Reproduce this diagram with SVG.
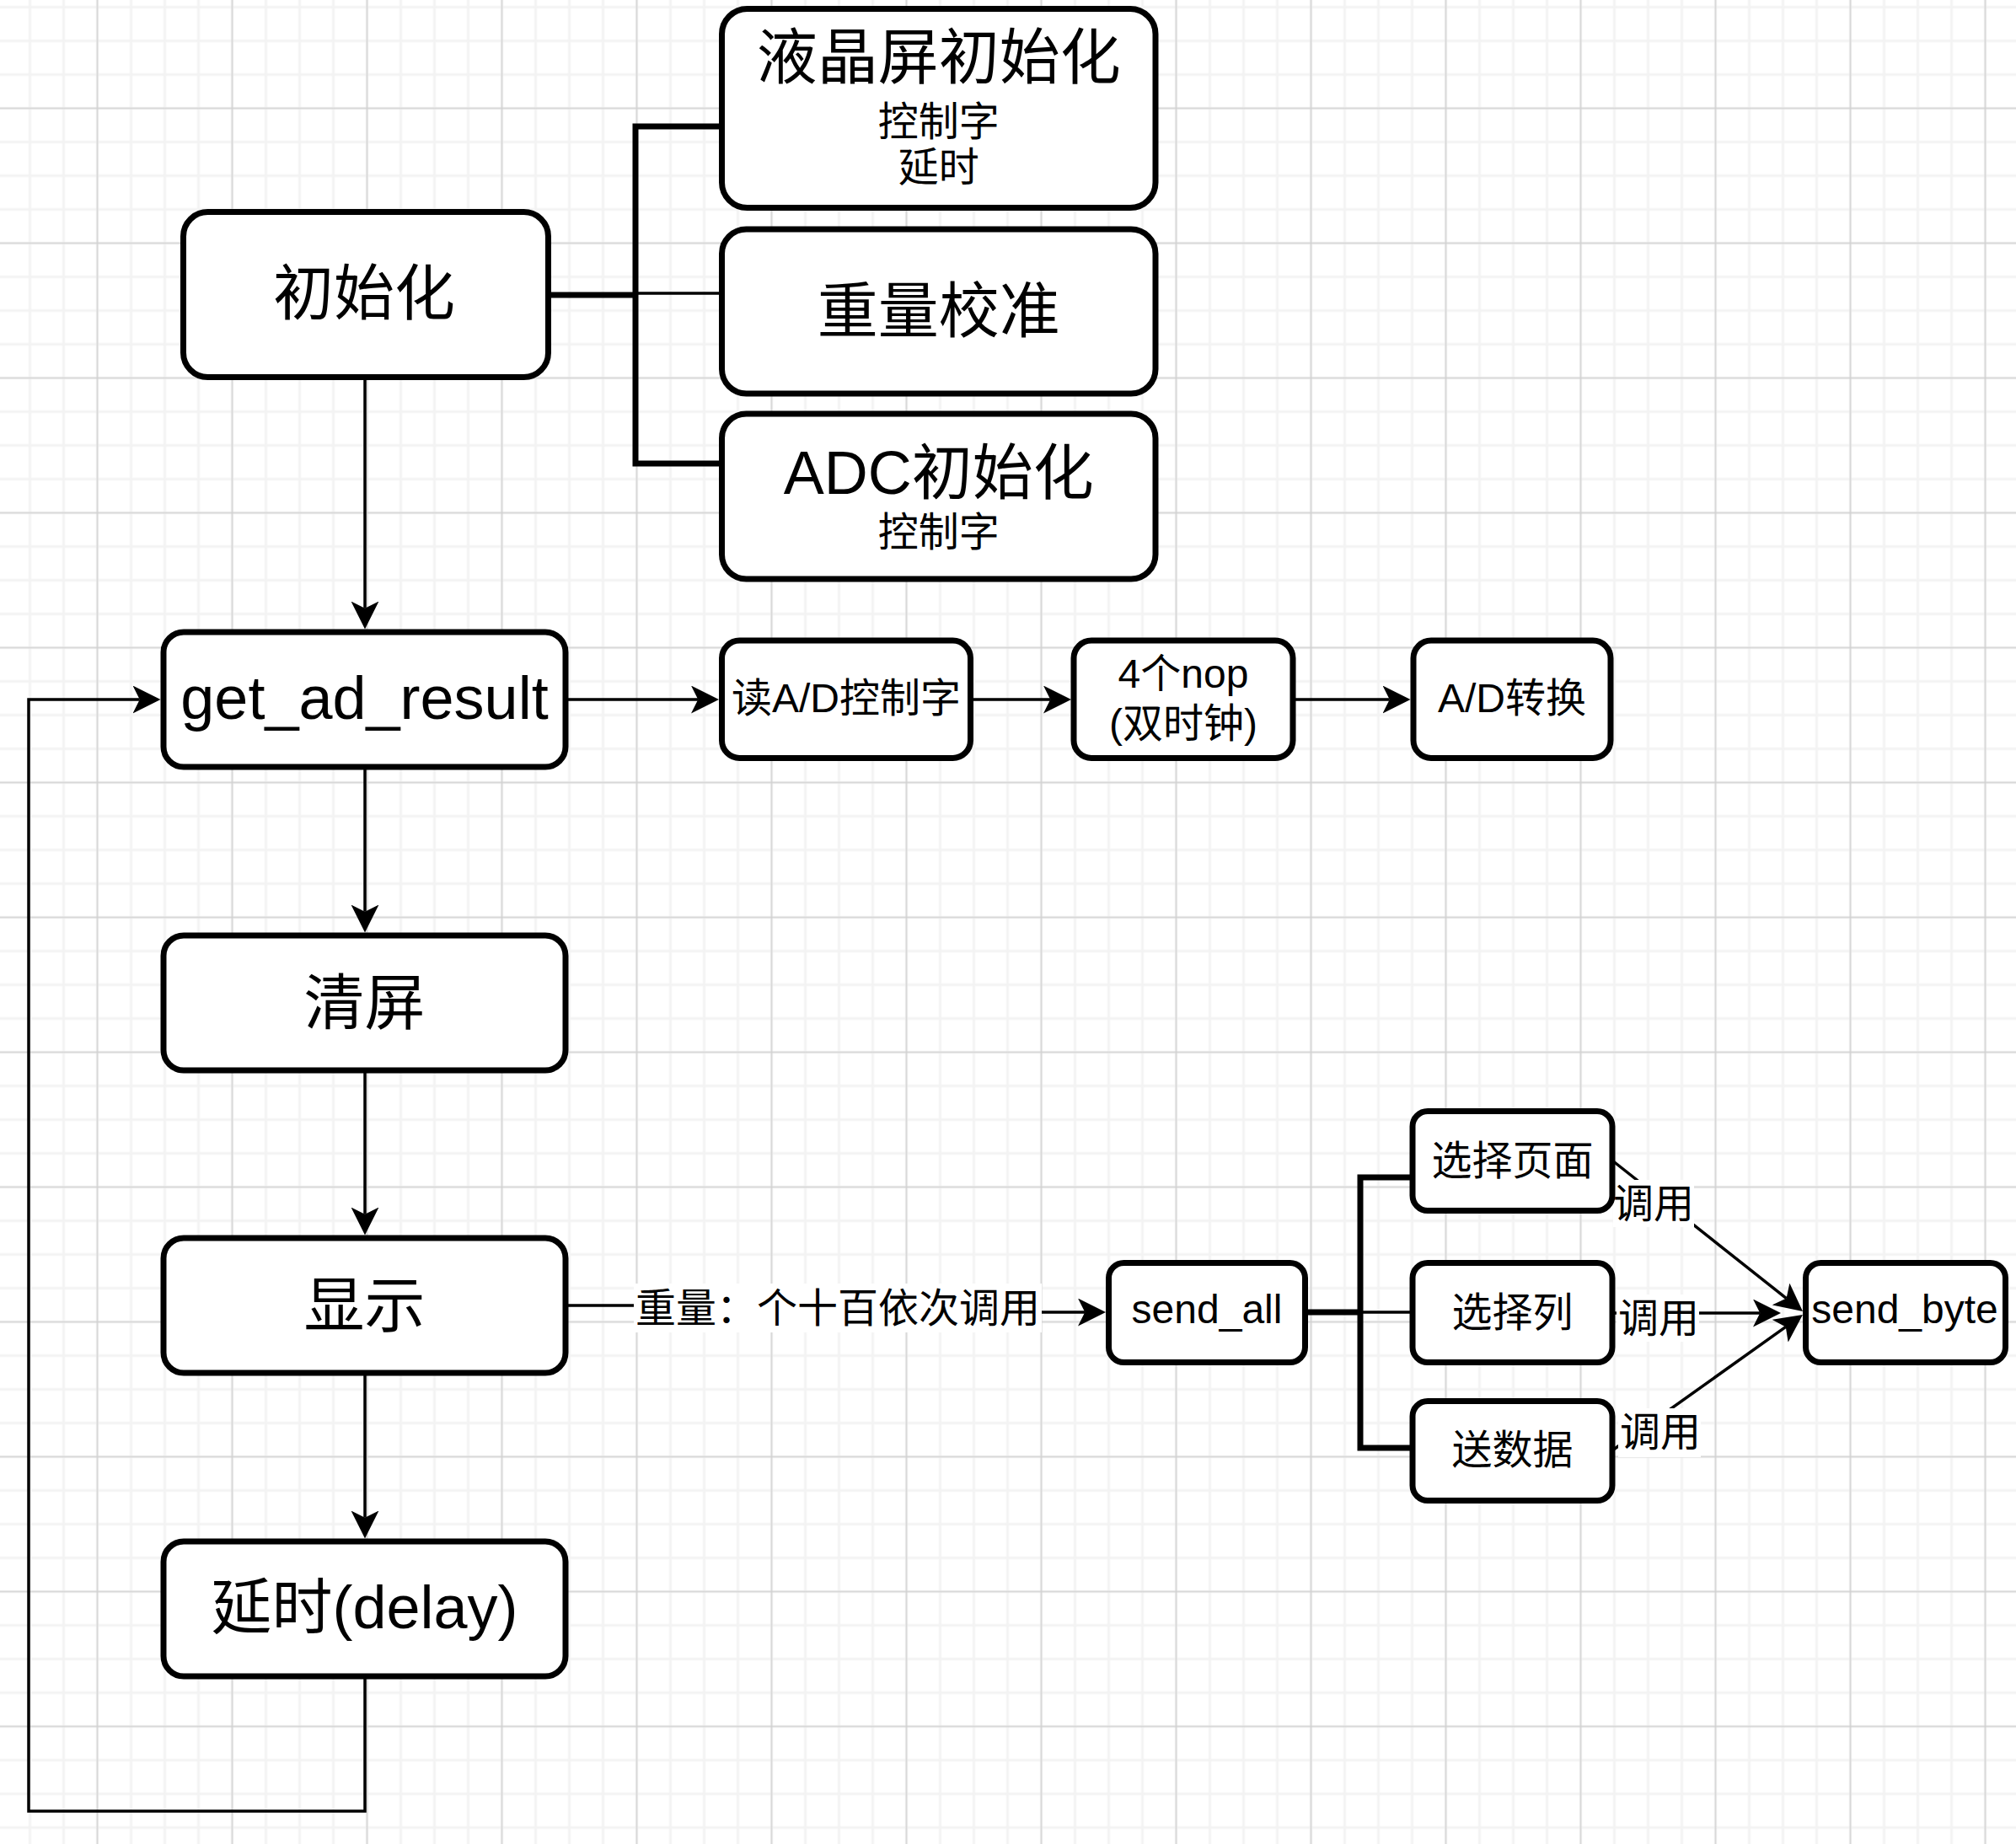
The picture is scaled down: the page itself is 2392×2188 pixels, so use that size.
<svg xmlns="http://www.w3.org/2000/svg" width="2392" height="2188" viewBox="0 0 2392 2188">
<defs>
<pattern id="grid" patternUnits="userSpaceOnUse" x="15.5" y="-11.5" width="160" height="160">
<rect width="160" height="160" fill="#ffffff"/>
<path d="M20,0V160M60,0V160M100,0V160M140,0V160M0,20H160M0,60H160M0,100H160M0,140H160" stroke="#f3f3f3" stroke-width="3" fill="none"/>
<path d="M100,0V160M0,140H160" stroke="#d0d0d0" stroke-width="1.5" fill="none"/>
</pattern>
<marker id="arrow" markerUnits="userSpaceOnUse" viewBox="0 -16.5 33 33" markerWidth="33" markerHeight="33" refX="8.25" refY="0" orient="auto">
<path d="M0,-16.5 L33,0 L0,16.5 L8.25,0 Z" fill="#000000"/>
</marker>
<style>
.box { fill:#ffffff; stroke:#000000; stroke-width:7; }
.thin { fill:none; stroke:#000000; stroke-width:3.5; }
.thick { fill:none; stroke:#000000; stroke-width:7; stroke-linejoin:miter; }
.arr { marker-end:url(#arrow); }
.bg { fill:#ffffff; }
text { font-family:"Liberation Sans","Noto Sans CJK SC",sans-serif; fill:#000000; text-anchor:middle; }
.t72 { font-size:72px; }
.t48 { font-size:48px; }
</style>
</defs>
<rect x="0" y="0" width="2392" height="2188" fill="url(#grid)"/>

<g id="connectors">
<path class="thick" d="M856.5,150 H754 V550 H856.5"/>
<path class="thick" d="M650,350 H754"/>
<path class="thin" d="M754,348 H856.5"/>
<path class="thin arr" d="M433,447.5 V721.75"/>
<path class="thin arr" d="M433,910 V1081.75"/>
<path class="thin arr" d="M433,1270 V1440.75"/>
<path class="thin arr" d="M433,1629 V1800.75"/>
<path class="thin arr" d="M433,1989 V2149 H34 V830 H165.75"/>
<path class="thin arr" d="M671,830 H828.25"/>
<path class="thin arr" d="M1151,830 H1246.25"/>
<path class="thin arr" d="M1534,830 H1648.75"/>
<path class="thin arr" d="M671,1549 H993 V1557 H1287.25"/>
<rect class="bg" x="752" y="1523" width="484" height="58"/>
<text class="t48" x="994" y="1569">重量：个十百依次调用</text>
<path class="thick" d="M1676,1397 H1614 V1718 H1676"/>
<path class="thick" d="M1548.5,1557 H1614"/>
<path class="thin" d="M1614,1557 H1676"/>
<path class="thin arr" d="M1913,1377 L2119.6,1540.6"/>
<path class="thin arr" d="M1913,1558 H2088.25"/>
<path class="thin arr" d="M1913,1721 L2118.8,1574.4"/>
<rect class="bg" x="1914" y="1400" width="96" height="56"/>
<text class="t48" x="1962" y="1445">调用</text>
<rect class="bg" x="1918" y="1536" width="98" height="56"/>
<text class="t48" x="1968" y="1581">调用</text>
<rect class="bg" x="1920" y="1671" width="98" height="58"/>
<text class="t48" x="1970" y="1716">调用</text>
</g>

<g id="n-lcd-init">
<rect class="box" x="856.5" y="10.5" width="514.5" height="236" rx="30"/>
<text class="t72" x="1113.75" y="93">液晶屏初始化</text>
<text class="t48" x="1113.75" y="161">控制字</text>
<text class="t48" x="1113.75" y="215">延时</text>
</g>
<g id="n-weight-cal">
<rect class="box" x="856.5" y="272" width="514.5" height="195" rx="29"/>
<text class="t72" x="1113.75" y="394">重量校准</text>
</g>
<g id="n-adc-init">
<rect class="box" x="856.5" y="491" width="514.5" height="196" rx="29"/>
<text class="t72" x="1113.75" y="586">ADC初始化</text>
<text class="t48" x="1113.75" y="648">控制字</text>
</g>
<g id="n-init">
<rect class="box" x="217.5" y="251.5" width="433" height="196" rx="29"/>
<text class="t72" x="432" y="373">初始化</text>
</g>
<g id="n-get-ad-result">
<rect class="box" x="194" y="750" width="477" height="160" rx="24"/>
<text class="t72" x="432.5" y="853">get_ad_result</text>
</g>
<g id="n-read-ctrl">
<rect class="box" x="856.5" y="760" width="295" height="139.5" rx="21"/>
<text class="t48" x="1004" y="845">读A/D控制字</text>
</g>
<g id="n-nop">
<rect class="box" x="1274" y="760" width="260" height="139.5" rx="21"/>
<text class="t48" x="1404" y="816">4个nop</text>
<text class="t48" x="1404" y="875">(双时钟)</text>
</g>
<g id="n-ad-conv">
<rect class="box" x="1677" y="760" width="234" height="139.5" rx="21"/>
<text class="t48" x="1794" y="845">A/D转换</text>
</g>
<g id="n-clear">
<rect class="box" x="194" y="1110" width="477" height="160" rx="24"/>
<text class="t72" x="432.5" y="1215">清屏</text>
</g>
<g id="n-display">
<rect class="box" x="194" y="1469" width="477" height="160" rx="24"/>
<text class="t72" x="432.5" y="1574">显示</text>
</g>
<g id="n-delay">
<rect class="box" x="194" y="1829" width="477" height="160" rx="24"/>
<text class="t72" x="432.5" y="1932">延时(delay)</text>
</g>
<g id="n-send-all">
<rect class="box" x="1315.5" y="1498.5" width="233" height="118" rx="18"/>
<text class="t48" x="1432" y="1570">send_all</text>
</g>
<g id="n-sel-page">
<rect class="box" x="1676" y="1318.5" width="237" height="118" rx="18"/>
<text class="t48" x="1794.5" y="1394">选择页面</text>
</g>
<g id="n-sel-col">
<rect class="box" x="1676" y="1498.5" width="237" height="118" rx="18"/>
<text class="t48" x="1794.5" y="1574">选择列</text>
</g>
<g id="n-send-data">
<rect class="box" x="1676" y="1662.5" width="237" height="118" rx="18"/>
<text class="t48" x="1794.5" y="1737">送数据</text>
</g>
<g id="n-send-byte">
<rect class="box" x="2142.5" y="1498.5" width="237" height="118" rx="18"/>
<text class="t48" x="2260" y="1570">send_byte</text>
</g>
</svg>
